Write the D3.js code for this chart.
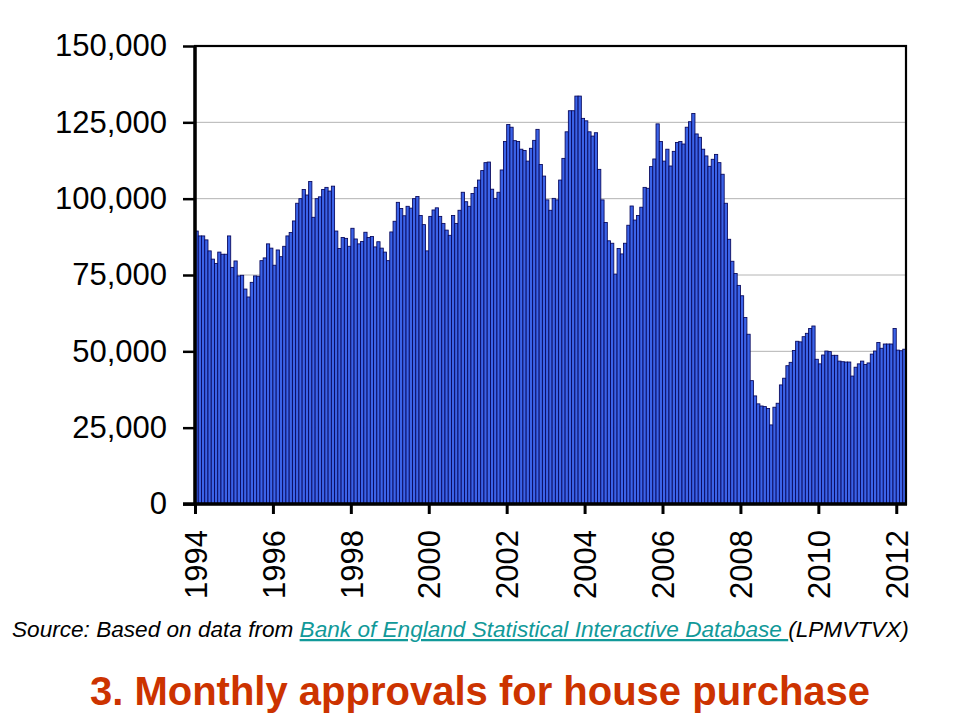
<!DOCTYPE html>
<html>
<head>
<meta charset="utf-8">
<script src="https://cdn.jsdelivr.net/npm/d3@7"></script>
<style>
  html, body { margin: 0; padding: 0; background: #fff; }
  svg { display: block; font-family: "Liberation Sans", Arial, Helvetica, sans-serif; }
</style>
</head>
<body>
<svg id="chart" width="960" height="720"></svg>
<script>
// Monthly approvals for house purchase, Jan 1994 - Mar 2012
const startYear = 1994;
const approvals = [
  89400, 87800, 87800, 86500, 82900, 80200, 78800, 82500, 81800, 81800, 87800, 77500,
  79600, 74700, 74900, 70400, 67800, 72600, 74700, 74600, 79700, 80600, 85200, 83800,
  78200, 83200, 81000, 84400, 87800, 88900, 92700, 98500, 100000, 103000, 101200, 105600,
  93900, 100000, 100600, 103000, 103700, 102500, 104100, 89400, 83700, 87300, 87000, 84400,
  90300, 86800, 85200, 86000, 89000, 87300, 87600, 84200, 85900, 83800, 82500, 79700,
  89100, 92600, 98800, 96800, 94400, 97500, 96900, 100000, 100700, 94500, 91500, 82900,
  94200, 96300, 97000, 94200, 91900, 89700, 88000, 94500, 91900, 96200, 102100, 99000,
  97500, 101700, 103700, 106100, 109200, 111800, 112000, 103100, 100100, 102100, 109400, 118700,
  124300, 123400, 119000, 118700, 116200, 115800, 112300, 116500, 119100, 122700, 111200, 107400,
  99600, 96200, 100100, 99600, 106100, 113200, 121900, 128800, 128800, 133600, 133600, 126300,
  125500, 121900, 120500, 121600, 109600, 99600, 92200, 86200, 85400, 75300, 83700, 81900,
  85400, 91300, 97600, 93000, 94500, 97200, 103700, 103400, 110500, 113000, 124500, 118700,
  112300, 116200, 110700, 115500, 118400, 118700, 117900, 123400, 125200, 127900, 121200, 120100,
  116200, 114000, 110600, 112900, 114500, 111800, 108000, 98500, 86700, 79500, 75500, 71600,
  68200, 61100, 55600, 40400, 35400, 32800, 32100, 31900, 31300, 25900, 31700, 33000,
  39000, 41200, 45300, 46400, 50300, 53300, 53100, 54800, 55900, 57500, 58300, 47400,
  45900, 48800, 50100, 49900, 48700, 48700, 46800, 46600, 46500, 46500, 41900, 44800,
  45900, 46800, 45700, 46200, 49100, 50100, 52900, 51000, 52400, 52400, 52400, 57500,
  50400, 50200, 50700
];
const xTickLabels = ["1994", "1996", "1998", "2000", "2002", "2004", "2006", "2008", "2010", "2012"];
const yTickValues = [0, 25000, 50000, 75000, 100000, 125000, 150000];
const sourcePrefix = "Source: Based on data from ";
const sourceLink = "Bank of England Statistical Interactive Database ";
const sourceSuffix = "(LPMVTVX)";
const titleText = "3. Monthly approvals for house purchase";

(function () {
const svg = d3.select("#chart");
svg.append("rect").attr("width", 960).attr("height", 720).attr("fill", "#fff");

const pL = 195, pR = 906, pT = 46, pB = 504;

const x = d3.scaleBand().domain(d3.range(approvals.length)).range([pL, pR]).padding(0);
const xl = d3.scaleLinear().domain([0, approvals.length]).range([pL, pR]);
const y = d3.scaleLinear().domain([0, 150000]).range([pB, pT]);

// gridlines
svg.append("g")
  .selectAll("line")
  .data(yTickValues.filter(v => v > 0 && v < 150000))
  .join("line")
  .attr("x1", pL).attr("x2", pR)
  .attr("y1", d => y(d)).attr("y2", d => y(d))
  .attr("stroke", "#b4b4b4").attr("stroke-width", 1);

// bars
svg.append("g")
  .selectAll("rect")
  .data(approvals)
  .join("rect")
  .attr("x", (d, i) => x(i))
  .attr("width", x.bandwidth())
  .attr("y", d => y(d))
  .attr("height", d => y(0) - y(d))
  .attr("fill", "#3b63e8")
  .attr("stroke", "#06065a")
  .attr("stroke-width", 0.85);

// plot frame
svg.append("rect")
  .attr("x", pL).attr("y", pT)
  .attr("width", pR - pL).attr("height", pB - pT)
  .attr("fill", "none").attr("stroke", "#000").attr("stroke-width", 2.2);

// y axis
const yAxis = svg.append("g")
  .attr("transform", `translate(${pL},0)`)
  .call(d3.axisLeft(y).tickValues(yTickValues).tickFormat(d3.format(",")).tickSize(12).tickPadding(16));
yAxis.select(".domain").attr("stroke", "#000").attr("stroke-width", 3.5).attr("d", `M0,${pT}V${pB}`);
yAxis.selectAll(".tick line").attr("stroke", "#000").attr("stroke-width", 2.5);
yAxis.selectAll(".tick text")
  .attr("fill", "#000")
  .style("font-size", "31px")
  .style("font-family", "'Liberation Sans', Arial, sans-serif");

// x axis (ticks at year boundaries, every two years)
const xTickIdx = xTickLabels.map(lbl => (+lbl - startYear) * 12);
const xAxis = svg.append("g")
  .attr("transform", `translate(0,${pB})`)
  .call(d3.axisBottom(xl).tickValues(xTickIdx).tickFormat((d, i) => xTickLabels[i]).tickSize(10).tickPadding(0));
xAxis.select(".domain").attr("stroke", "#000").attr("stroke-width", 3.5).attr("d", `M${pL - 12},0H${pR + 1}`);
xAxis.selectAll(".tick line").attr("stroke", "#000").attr("stroke-width", 3);
xAxis.selectAll(".tick text")
  .attr("fill", "#000")
  .attr("text-anchor", "end")
  .attr("transform", "translate(0,26) rotate(-90)")
  .attr("x", 0).attr("y", 0).attr("dy", "0.36em")
  .style("font-size", "31px")
  .style("font-family", "'Liberation Sans', Arial, sans-serif");

// source line
const src = svg.append("text")
  .attr("x", 12).attr("y", 637)
  .style("font-size", "22.6px")
  .style("font-style", "italic")
  .attr("fill", "#000");
src.append("tspan").text(sourcePrefix);
src.append("tspan").text(sourceLink).attr("fill", "#119999").style("text-decoration", "underline");
src.append("tspan").text(sourceSuffix);

// title
svg.append("text")
  .attr("x", 480).attr("y", 705)
  .attr("text-anchor", "middle")
  .style("font-size", "40px")
  .style("font-weight", "bold")
  .attr("fill", "#cc3300")
  .text(titleText);
})();
</script>
</body>
</html>
